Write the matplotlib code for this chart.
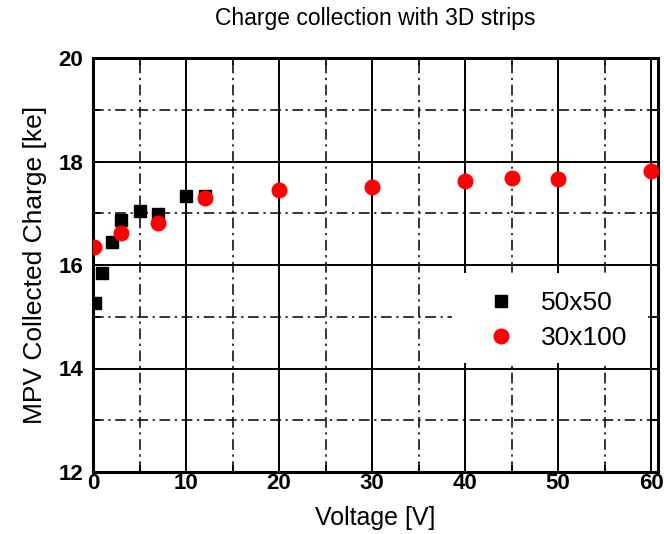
import matplotlib
matplotlib.use("Agg")
import matplotlib.pyplot as plt
from matplotlib.patches import Rectangle
from matplotlib.ticker import MultipleLocator

plt.rcParams['font.family'] = ['Liberation Sans', 'DejaVu Sans']

# Data
v_50x50 = [0.2, 1, 2, 3, 5, 7, 10, 12]
q_50x50 = [15.27, 15.84, 16.45, 16.86, 17.04, 16.98, 17.33, 17.34]
v_30x100 = [0.1, 3, 7, 12, 20, 30, 40, 45, 50, 60]
q_30x100 = [16.34, 16.62, 16.82, 17.29, 17.45, 17.51, 17.63, 17.68, 17.66, 17.82]
labels = ["50x50", "30x100"]
title = "Charge collection with 3D strips"
xlabel = "Voltage [V]"
ylabel = "MPV Collected Charge [ke]"

fig = plt.figure(figsize=(6.64, 5.34), dpi=100)
ax = fig.add_axes([93/664, 1-472/534, 565/664, 414/534])

ax.set_xlim(0, 60.75)
ax.set_ylim(12, 20)
ax.xaxis.set_major_locator(MultipleLocator(10))
ax.xaxis.set_minor_locator(MultipleLocator(5))
ax.yaxis.set_major_locator(MultipleLocator(2))
ax.yaxis.set_minor_locator(MultipleLocator(1))

ax.set_axisbelow(True)
ax.grid(which='major', color='black', linestyle='-', linewidth=1.4)
ax.grid(which='minor', color='black', linestyle=(0, (7, 3, 1.5, 3)), linewidth=1.1)

for s in ax.spines.values():
    s.set_linewidth(2.2)

ax.tick_params(which='both', direction='in', top=True, right=True, width=1.2)
ax.tick_params(which='major', length=8)
ax.tick_params(which='minor', length=5)
ax.tick_params(axis='x', which='major', labelsize=16, pad=1)
ax.tick_params(axis='y', which='major', labelsize=16, pad=7)
for lab in ax.get_xticklabels() + ax.get_yticklabels():
    lab.set_fontweight('bold')

# white box behind legend
ax.add_patch(Rectangle((0.635, 0.263), 0.347, 0.218, transform=ax.transAxes,
                       facecolor='white', edgecolor='none', zorder=1))

ax.plot(v_50x50, q_50x50, linestyle='none', marker='s', color='black',
        markersize=9, label=labels[0], zorder=3)
ax.plot(v_30x100, q_30x100, linestyle='none', marker='o', color='red',
        markersize=10.5, label=labels[1], zorder=4)

ax.legend(loc='center left', bbox_to_anchor=(0.69, 0.366), frameon=False,
          fontsize=19, handlelength=1.0, handletextpad=1.0, labelspacing=0.4,
          borderpad=0.2, borderaxespad=0)

ax.set_title(title, fontsize=16.5, pad=24)
ax.set_xlabel(xlabel, fontsize=18, labelpad=8)
ax.set_ylabel(ylabel, fontsize=19, labelpad=8)

fig.savefig("out.png", dpi=100)
